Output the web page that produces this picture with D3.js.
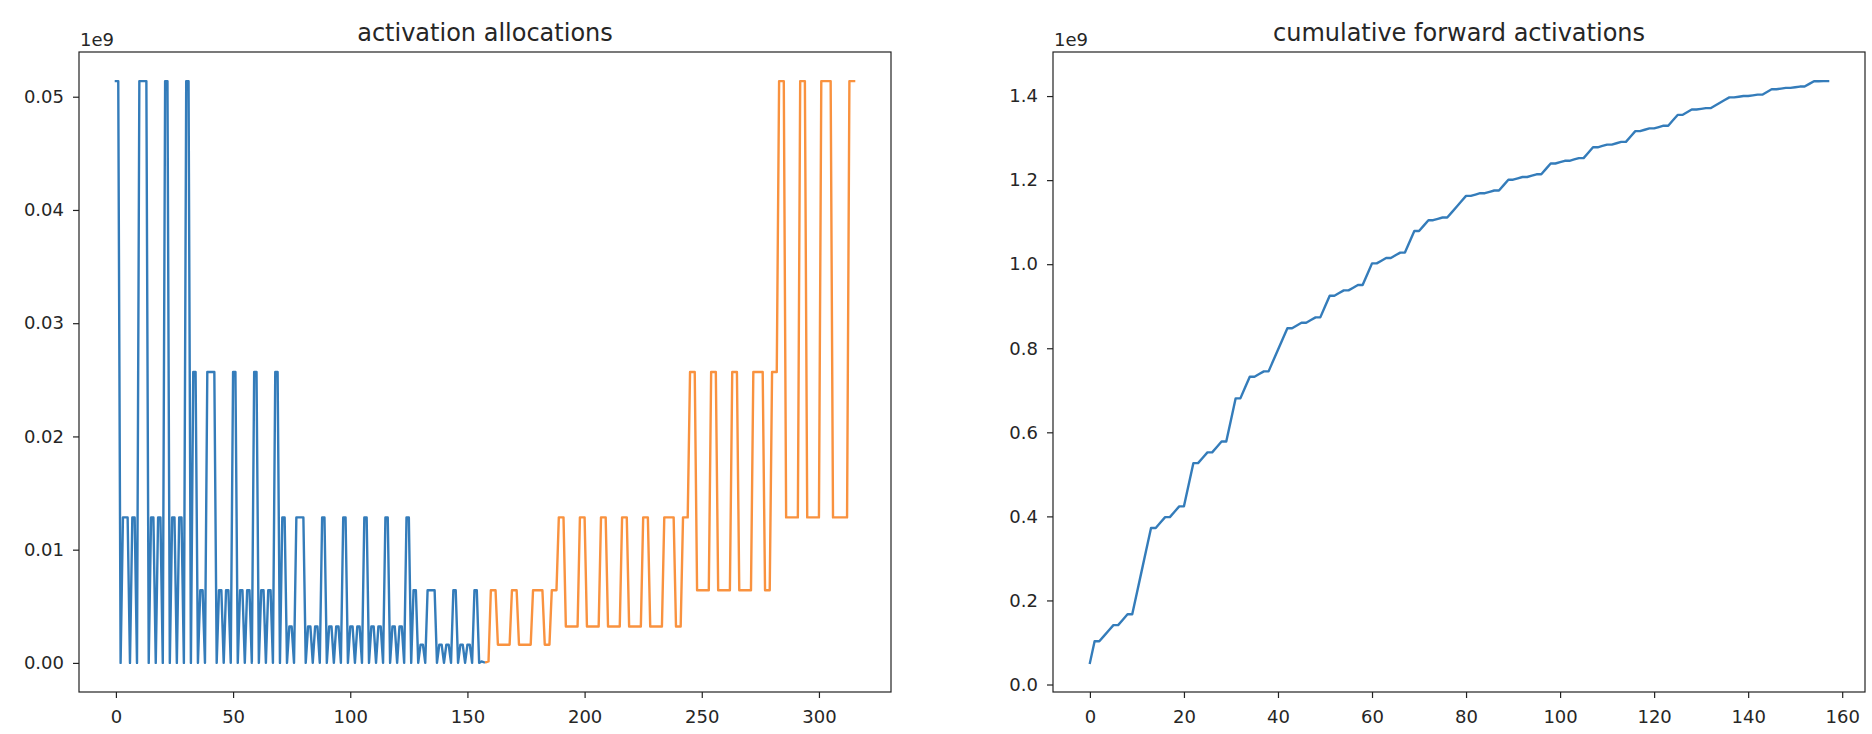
<!DOCTYPE html>
<html>
<head>
<meta charset="utf-8">
<script src="https://cdn.jsdelivr.net/npm/d3@7"></script>
<style>
  html, body { margin: 0; padding: 0; background: #ffffff; }
  svg { display: block; }
  text { font-family: "DejaVu Sans", sans-serif; fill: #262626; }
</style>
</head>
<body>
<svg id="chart" width="1872" height="734"></svg>
<script>
// ---------------- DATA (values in units of 1e9) ----------------
// forward activation allocations, steps 0..157
const fwdAlloc = [
  0.05138,0.05138,0,0.01285,
  0.01285,0.01285,0,0.01285,0.01285,0,0.05138,0.05138,0.05138,0.05138,0,
  0.01285,0.01285,0,0.01285,0.01285,0,0.05138,0.05138,0,
  0.01285,0.01285,0,0.01285,0.01285,0,0.05138,0.05138,0,
  0.02569,0.02569,0,0.00642,0.00642,0,0.02569,0.02569,0.02569,0.02569,0,
  0.00642,0.00642,0,0.00642,0.00642,0,0.02569,0.02569,0,
  0.00642,0.00642,0,0.00642,0.00642,0,0.02569,0.02569,0,
  0.00642,0.00642,0,0.00642,0.00642,0,0.02569,0.02569,0,
  0.01285,0.01285,0,0.00321,0.00321,0,0.01285,0.01285,0.01285,0.01285,0,
  0.00321,0.00321,0,0.00321,0.00321,0,0.01285,0.01285,0,
  0.00321,0.00321,0,0.00321,0.00321,0,0.01285,0.01285,0,
  0.00321,0.00321,0,0.00321,0.00321,0,0.01285,0.01285,0,
  0.00321,0.00321,0,0.00321,0.00321,0,0.01285,0.01285,0,
  0.00321,0.00321,0,0.00321,0.00321,0,0.01285,0.01285,0,
  0.00642,0.00642,0,0.00161,0.00161,0,0.00642,0.00642,0.00642,0.00642,0,
  0.00161,0.00161,0,0.00161,0.00161,0,0.00642,0.00642,0,
  0.00161,0.00161,0,0.00161,0.00161,0,0.00642,0.00642,0,
  0.000131,0.000064
];
// backward allocations, steps 158..315
const bwdStart = 158;
const bwdAlloc = [
  0.000064,0.000131,
  0.00642,0.00642,0.00642,
  0.00161,0.00161,0.00161,0.00161,0.00161,0.00161,
  0.00642,0.00642,0.00642,
  0.00161,0.00161,0.00161,0.00161,0.00161,0.00161,
  0.00642,0.00642,0.00642,0.00642,0.00642,
  0.00161,0.00161,0.00161,
  0.00642,0.00642,0.00642,
  0.01285,0.01285,0.01285,0.00321,0.00321,0.00321,0.00321,0.00321,0.00321,
  0.01285,0.01285,0.01285,0.00321,0.00321,0.00321,0.00321,0.00321,0.00321,
  0.01285,0.01285,0.01285,0.00321,0.00321,0.00321,0.00321,0.00321,0.00321,
  0.01285,0.01285,0.01285,0.00321,0.00321,0.00321,0.00321,0.00321,0.00321,
  0.01285,0.01285,0.01285,0.00321,0.00321,0.00321,0.00321,0.00321,0.00321,
  0.01285,0.01285,0.01285,0.01285,0.01285,0.00321,0.00321,0.00321,0.01285,0.01285,0.01285,
  0.02569,0.02569,0.02569,0.00642,0.00642,0.00642,0.00642,0.00642,0.00642,
  0.02569,0.02569,0.02569,0.00642,0.00642,0.00642,0.00642,0.00642,0.00642,
  0.02569,0.02569,0.02569,0.00642,0.00642,0.00642,0.00642,0.00642,0.00642,
  0.02569,0.02569,0.02569,0.02569,0.02569,0.00642,0.00642,0.00642,0.02569,0.02569,0.02569,
  0.05138,0.05138,0.05138,0.01285,0.01285,0.01285,0.01285,0.01285,0.01285,
  0.05138,0.05138,0.05138,0.01285,0.01285,0.01285,0.01285,0.01285,0.01285,
  0.05138,0.05138,0.05138,0.05138,0.05138,0.01285,0.01285,0.01285,0.01285,0.01285,0.01285,0.01285,
  0.05138,0.05138,0.05138
];
// cumulative forward activations, steps 0..157
const cumForward = [
  0.05138,0.10276,0.10276,0.11561,0.12845,0.14130,0.14130,0.15414,0.16699,0.16699,
  0.21837,0.26975,0.32113,0.37251,0.37251,0.38535,0.39820,0.39820,0.41104,0.42389,
  0.42389,0.47527,0.52665,0.52665,0.53949,0.55234,0.55234,0.56518,0.57803,0.57803,
  0.62941,0.68079,0.68079,0.70648,0.73217,0.73217,0.73859,0.74501,0.74501,0.77070,
  0.79639,0.82208,0.84777,0.84777,0.85420,0.86062,0.86062,0.86704,0.87346,0.87346,
  0.89915,0.92484,0.92484,0.93127,0.93769,0.93769,0.94411,0.95053,0.95053,0.97622,
  1.00191,1.00191,1.00834,1.01476,1.01476,1.02118,1.02760,1.02760,1.05329,1.07898,
  1.07898,1.09183,1.10467,1.10467,1.10789,1.11110,1.11110,1.12394,1.13679,1.14963,
  1.16248,1.16248,1.16569,1.16890,1.16890,1.17211,1.17532,1.17532,1.18817,1.20101,
  1.20101,1.20422,1.20744,1.20744,1.21065,1.21386,1.21386,1.22670,1.23955,1.23955,
  1.24276,1.24597,1.24597,1.24918,1.25239,1.25239,1.26524,1.27808,1.27808,1.28129,
  1.28451,1.28451,1.28772,1.29093,1.29093,1.30377,1.31662,1.31662,1.31983,1.32304,
  1.32304,1.32625,1.32946,1.32946,1.34231,1.35515,1.35515,1.36158,1.36800,1.36800,
  1.36960,1.37121,1.37121,1.37763,1.38406,1.39048,1.39690,1.39690,1.39850,1.40011,
  1.40011,1.40172,1.40332,1.40332,1.40974,1.41617,1.41617,1.41777,1.41938,1.41938,
  1.42098,1.42259,1.42259,1.42901,1.43543,1.43543,1.43556,1.43563
];
// tick labels
const leftXTicks  = [0, 50, 100, 150, 200, 250, 300];
const leftYTicks  = [0.00, 0.01, 0.02, 0.03, 0.04, 0.05];
const rightXTicks = [0, 20, 40, 60, 80, 100, 120, 140, 160];
const rightYTicks = [0.0, 0.2, 0.4, 0.6, 0.8, 1.0, 1.2, 1.4];
const titles = ["activation allocations", "cumulative forward activations"];
const offsetLabel = "1e9";

// ---------------- LAYOUT ----------------
const svg = d3.select("#chart");
const W = 812, H = 640, TOP = 52;
const panels = [{ left: 79 }, { left: 1053 }];
const BLUE = "#347cba", ORANGE = "#f9923f";
const LW = 2.4;

function pad(ext) { const d = (ext[1] - ext[0]) * 0.05; return [ext[0] - d, ext[1] + d]; }

function drawPanel(p, xDomain, yDomain, xTicks, yTicks, yFmt, title, series) {
  const g = svg.append("g").attr("transform", `translate(${p.left},${TOP})`);
  const x = d3.scaleLinear().domain(pad(xDomain)).range([0, W]);
  const y = d3.scaleLinear().domain(pad(yDomain)).range([H, 0]);

  series.forEach(s => {
    const line = d3.line().x(d => x(d[0])).y(d => y(d[1]));
    g.append("path")
      .attr("d", line(s.pts))
      .attr("fill", "none")
      .attr("stroke", s.color)
      .attr("stroke-width", LW)
      .attr("stroke-linejoin", "round")
      .attr("stroke-linecap", "square");
  });

  const xa = g.append("g").attr("transform", `translate(0,${H})`)
    .call(d3.axisBottom(x).tickValues(xTicks).tickFormat(d3.format("d")).tickSize(6).tickPadding(12));
  const ya = g.append("g")
    .call(d3.axisLeft(y).tickValues(yTicks).tickFormat(d3.format(yFmt)).tickSize(6).tickPadding(9));
  [xa, ya].forEach(a => {
    a.select(".domain").remove();
    a.selectAll(".tick line").attr("stroke", "#222").attr("stroke-width", 1.2);
    a.selectAll(".tick text").style("font-family", "'DejaVu Sans', sans-serif")
      .style("font-size", "18px").attr("fill", "#262626");
  });

  g.append("rect").attr("x", 0).attr("y", 0).attr("width", W).attr("height", H)
    .attr("fill", "none").attr("stroke", "#222").attr("stroke-width", 1.2);

  g.append("text").attr("x", W / 2).attr("y", -11).attr("text-anchor", "middle")
    .style("font-size", "24px").text(title);
  g.append("text").attr("x", 1).attr("y", -6).attr("text-anchor", "start")
    .style("font-size", "18px").text(offsetLabel);
}

const fwdPts = fwdAlloc.map((v, i) => [i, v]);
const bwdPts = bwdAlloc.map((v, i) => [bwdStart + i, v]);
const allAlloc = fwdAlloc.concat(bwdAlloc);

drawPanel(panels[0], [0, bwdStart + bwdAlloc.length - 1], d3.extent(allAlloc),
  leftXTicks, leftYTicks, ".2f", titles[0],
  [{ pts: fwdPts, color: BLUE }, { pts: bwdPts, color: ORANGE }]);

drawPanel(panels[1], [0, cumForward.length - 1], d3.extent(cumForward),
  rightXTicks, rightYTicks, ".1f", titles[1],
  [{ pts: cumForward.map((v, i) => [i, v]), color: BLUE }]);
</script>
</body>
</html>
